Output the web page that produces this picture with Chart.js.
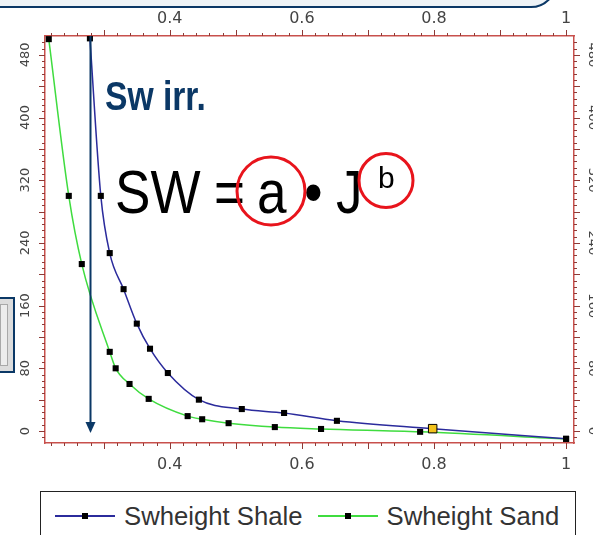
<!DOCTYPE html>
<html lang="en">
<head>
    <meta charset="UTF-8">
    <title>Swheight Shale / Sand</title>
    <style>
        body {
            margin: 0;
            padding: 0;
            background: #ffffff;
            font-family: 'Liberation Sans', Arial, sans-serif;
            overflow: hidden;
        }
        .wrap {
            position: relative;
            width: 593px;
            height: 535px;
            overflow: hidden;
        }
        .topbar {
            position: absolute;
            left: -10px;
            top: -20px;
            width: 563px;
            height: 24px;
            background: #eef3f7;
            border: 2px solid #0b3866;
            border-radius: 0 0 26px 0;
        }
        .sidebox {
            position: absolute;
            left: -2px;
            top: 297px;
            width: 13px;
            height: 72px;
            background: #dcdcdc;
            border: 2px solid #0b3866;
        }
        .sidebox div {
            position: absolute;
            left: 0;
            top: 5px;
            width: 6px;
            height: 60px;
            background: #ececec;
            border: 1px solid #a8a8a8;
        }
        .legend {
            position: absolute;
            left: 40px;
            top: 491px;
            width: 536px;
            height: 60px;
            border: 1.5px solid #222;
            background: #fff;
            display: flex;
            align-items: flex-start;
            padding-top: 9px;
            box-sizing: border-box;
            padding-left: 14px;
        }
        .legend .item {
            display: flex;
            align-items: center;
            margin-right: 15px;
        }
        .legend .sample {
            position: relative;
            width: 60px;
            height: 2px;
            margin-right: 9px;
        }
        .legend .sample span {
            position: absolute;
            left: 27px;
            top: -2px;
            width: 6px;
            height: 6px;
            background: #000;
        }
        .legend .text {
            font-size: 25.7px;
            color: #333;
            line-height: 30px;
        }
    </style>
</head>
<body>
<div class="wrap">
    <canvas id="swChart"></canvas>
    <div class="topbar"></div>
    <div class="sidebox"><div></div></div>
    <div class="legend" id="legend"></div>
</div>

<script src="https://cdn.jsdelivr.net/npm/chart.js"></script>
<script>
    // valores
    const shaleSw = [0.279, 0.2955, 0.309, 0.330, 0.350, 0.370, 0.397, 0.444, 0.509, 0.573, 0.653, 0.798, 1.0];
    const shaleHeight = [501, 300, 227, 181, 137, 105, 74, 40, 28, 23, 13, 3, -10];
    const sandSw = [0.2167, 0.247, 0.2667, 0.309, 0.318, 0.339, 0.368, 0.427, 0.449, 0.489, 0.559, 0.629, 0.779, 1.0];
    const sandHeight = [500, 300, 213, 101, 80, 60, 41, 19, 15, 10, 5, 2.6, -1, -10];
    const seriesNames = ['Swheight Shale', 'Swheight Sand'];
    const xTickLabels = [0.4, 0.6, 0.8, 1];
    const yTickLabels = [0, 80, 160, 240, 320, 400, 480];
    const swIrr = 0.279;
    const shaleHighlight = 11;

    const shaleColor = '#2b2b9c';
    const sandColor = '#3fdc3f';
    const axisRed = '#c8504c';
    const tickRed = '#8e3a36';
    const navy = '#0b3866';

    function toPoints(xs, ys) {
        return xs.map((v, i) => ({ x: v, y: ys[i] }));
    }

    // ticks, rótulos do eixo y e anotações
    const decor = {
        id: 'decor',
        afterDraw(chart) {
            const { ctx, chartArea: a, scales } = chart;
            const x = scales.x, y = scales.y;
            ctx.save();
            ctx.strokeStyle = tickRed;
            ctx.lineWidth = 1;
            ctx.beginPath();
            for (let i = 0; ; i++) {
                const v = 0.22 + i * 0.02;
                if (v > 1.0001) break;
                const px = Math.round(x.getPixelForValue(v)) + 0.5;
                const major = Math.abs(v * 10 - Math.round(v * 10)) < 1e-6;
                const len = major ? 6 : 3;
                ctx.moveTo(px, a.top); ctx.lineTo(px, a.top - len);
                ctx.moveTo(px, a.bottom); ctx.lineTo(px, a.bottom + len);
            }
            for (let i = 0; ; i++) {
                const v = -8 + i * 8;
                if (v > 500) break;
                const py = Math.round(y.getPixelForValue(v)) + 0.5;
                const major = v % 40 === 0;
                const len = major ? 6 : 3;
                ctx.moveTo(a.left, py); ctx.lineTo(a.left - len, py);
                ctx.moveTo(a.right, py); ctx.lineTo(a.right + len, py);
            }
            ctx.stroke();

            // rótulos y (girados)
            ctx.fillStyle = '#444';
            ctx.font = '13px "DejaVu Sans"';
            ctx.textAlign = 'center';
            ctx.textBaseline = 'middle';
            yTickLabels.forEach(v => {
                const py = y.getPixelForValue(v);
                ctx.save();
                ctx.translate(26, py);
                ctx.rotate(-Math.PI / 2);
                ctx.fillText(String(v), 0, 0);
                ctx.restore();
                ctx.save();
                ctx.translate(a.right + 18, py);
                ctx.rotate(Math.PI / 2);
                ctx.fillText(String(v), 0, 0);
                ctx.restore();
            });

            // seta Sw irr.
            const ax = Math.round(x.getPixelForValue(swIrr)) + 0.5;
            const tip = y.getPixelForValue(0) + 2;
            ctx.strokeStyle = navy;
            ctx.fillStyle = navy;
            ctx.lineWidth = 2;
            ctx.beginPath();
            ctx.moveTo(ax, a.top);
            ctx.lineTo(ax, tip - 8);
            ctx.stroke();
            ctx.beginPath();
            ctx.moveTo(ax - 5, tip - 11);
            ctx.lineTo(ax + 5, tip - 11);
            ctx.lineTo(ax, tip);
            ctx.closePath();
            ctx.fill();

            // textos
            function narrow(text, font, px, py, color, sx) {
                ctx.save();
                ctx.font = font;
                ctx.fillStyle = color;
                ctx.textAlign = 'left';
                ctx.textBaseline = 'alphabetic';
                ctx.translate(px, py);
                ctx.scale(sx, 1);
                ctx.fillText(text, 0, 0);
                ctx.restore();
            }
            narrow('Sw irr.', 'bold 41px "Liberation Sans"', 105, 110, navy, 0.82);
            const eq = '61px "Liberation Sans"';
            narrow('SW', eq, 115, 213, '#000', 0.87);
            narrow('=', eq, 214, 213, '#000', 0.87);
            narrow('a', eq, 257, 213, '#000', 0.87);
            narrow('\u2022', eq, 304, 213, '#000', 0.87);
            narrow('J', eq, 336, 213, '#000', 0.87);
            narrow('b', '30px "Liberation Sans"', 378, 188, '#000', 1);

            ctx.strokeStyle = '#e8141c';
            ctx.lineWidth = 3;
            ctx.beginPath();
            ctx.arc(271, 191, 34, 0, Math.PI * 2);
            ctx.stroke();
            ctx.beginPath();
            ctx.arc(386, 180.5, 27, 0, Math.PI * 2);
            ctx.stroke();
            ctx.restore();
        }
    };

    const canvas = document.getElementById('swChart');
    canvas.width = 593;
    canvas.height = 535;

    const xTicks = {
        maxRotation: 0,
        color: '#444',
        font: { family: 'DejaVu Sans', size: 16 },
        callback: v => String(v)
    };

    const swChart = new Chart(canvas.getContext('2d'), {
        type: 'scatter',
        data: {
            datasets: [{
                label: seriesNames[0],
                data: toPoints(shaleSw, shaleHeight),
                showLine: true,
                borderColor: shaleColor,
                borderWidth: 1.5,
                cubicInterpolationMode: 'monotone',
                pointStyle: 'rect',
                pointRadius: c => c.dataIndex === shaleHighlight ? 6 : 4.3,
                pointBackgroundColor: c => c.dataIndex === shaleHighlight ? '#f2c21c' : '#000',
                pointBorderColor: '#000',
                pointBorderWidth: c => c.dataIndex === shaleHighlight ? 1 : 0
            }, {
                label: seriesNames[1],
                data: toPoints(sandSw, sandHeight),
                showLine: true,
                borderColor: sandColor,
                borderWidth: 1.5,
                cubicInterpolationMode: 'monotone',
                pointStyle: 'rect',
                pointRadius: 4.3,
                pointBackgroundColor: '#000',
                pointBorderWidth: 0
            }]
        },
        options: {
            responsive: false,
            animation: false,
            layout: { padding: { left: 0, right: 0, top: 0, bottom: 52 } },
            plugins: { legend: { display: false }, tooltip: { enabled: false } },
            scales: {
                x: {
                    type: 'linear',
                    position: 'bottom',
                    min: 0.211,
                    max: 1.012,
                    afterBuildTicks: s => { s.ticks = xTickLabels.map(v => ({ value: v })); },
                    afterFit: s => { s.height = 40; },
                    grid: { drawOnChartArea: false, drawTicks: false },
                    border: { display: true, color: axisRed, width: 1.5 },
                    ticks: Object.assign({ padding: 12 }, xTicks)
                },
                x2: {
                    type: 'linear',
                    position: 'top',
                    min: 0.211,
                    max: 1.012,
                    afterBuildTicks: s => { s.ticks = xTickLabels.map(v => ({ value: v })); },
                    afterFit: s => { s.height = 36; },
                    grid: { drawOnChartArea: false, drawTicks: false },
                    border: { display: true, color: axisRed, width: 1.5 },
                    ticks: Object.assign({ padding: 8 }, xTicks)
                },
                y: {
                    type: 'linear',
                    position: 'left',
                    min: -15.3,
                    max: 504,
                    afterFit: s => { s.width = 45; },
                    grid: { drawOnChartArea: false, drawTicks: false },
                    border: { display: true, color: axisRed, width: 1.5 },
                    ticks: { display: false }
                },
                y2: {
                    type: 'linear',
                    position: 'right',
                    min: -15.3,
                    max: 504,
                    afterFit: s => { s.width = 19; },
                    grid: { drawOnChartArea: false, drawTicks: false },
                    border: { display: true, color: axisRed, width: 1.5 },
                    ticks: { display: false }
                }
            }
        },
        plugins: [decor]
    });

    // legenda com moldura
    const legend = document.getElementById('legend');
    swChart.data.datasets.forEach(ds => {
        const item = document.createElement('div');
        item.className = 'item';
        item.innerHTML = '<div class="sample" style="background:' + ds.borderColor + '"><span></span></div>' +
            '<div class="text">' + ds.label + '</div>';
        legend.appendChild(item);
    });
</script>
</body>
</html>
